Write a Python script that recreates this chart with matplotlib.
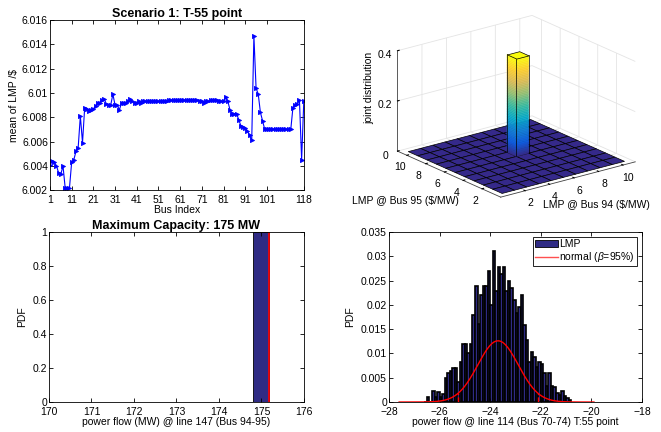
import numpy as np
import matplotlib
matplotlib.use("Agg")
import matplotlib.pyplot as plt
from matplotlib.colors import LinearSegmentedColormap
from matplotlib.patches import Patch
from matplotlib.lines import Line2D
from mpl_toolkits.mplot3d.art3d import Poly3DCollection

plt.rcParams["font.family"] = ["Liberation Sans", "DejaVu Sans"]
plt.rcParams["font.size"] = 7.5
plt.rcParams["mathtext.fontset"] = "custom"
plt.rcParams["mathtext.it"] = "Liberation Sans:italic"
plt.rcParams["axes.linewidth"] = 0.6

# === DATA
# Scenario 1: mean LMP per bus
bus_lmp = [
    6.0041, 6.0044, 6.0043, 6.0040, 6.0034, 6.0033, 6.0040, 6.0022, 6.0022, 6.0022,
    6.0043, 6.0045, 6.0052, 6.0055, 6.0081, 6.0059, 6.0088, 6.0087, 6.0085, 6.0086,
    6.0087, 6.0089, 6.0092, 6.0092, 6.0094, 6.0095, 6.0091, 6.0090, 6.0090, 6.0099,
    6.0090, 6.0090, 6.0086, 6.0092, 6.0092, 6.0092, 6.0093, 6.0095, 6.0093, 6.0092,
    6.0092, 6.0093, 6.0092, 6.0093, 6.0093, 6.0093, 6.0093, 6.0093, 6.0093, 6.0093,
    6.0093, 6.0093, 6.0093, 6.0093, 6.0093, 6.0094, 6.0094, 6.0094, 6.0094, 6.0094,
    6.0094, 6.0094, 6.0094, 6.0094, 6.0094, 6.0094, 6.0094, 6.0094, 6.0094, 6.0093,
    6.0093, 6.0092, 6.0093, 6.0093, 6.0094, 6.0094, 6.0094, 6.0094, 6.0093, 6.0093,
    6.0093, 6.0097, 6.0093, 6.0086, 6.0083, 6.0083, 6.0083, 6.0078, 6.0073, 6.0072,
    6.0071, 6.0069, 6.0065, 6.0061, 6.0147, 6.0104, 6.0099, 6.0084, 6.0077, 6.0070,
    6.0070, 6.0070, 6.0070, 6.0070, 6.0070, 6.0070, 6.0070, 6.0070, 6.0070, 6.0070,
    6.0070, 6.0070, 6.0088, 6.0090, 6.0091, 6.0094, 6.0045, 6.0093,
]
bus_index = np.arange(1, len(bus_lmp) + 1)
bus_ticks = [1, 11, 21, 31, 41, 51, 61, 71, 81, 91, 101, 118]

# joint distribution of LMP at bus 94 / bus 95 (10 x 10 bins, one non-zero)
n_bins = 10
peak_bus94 = 6
peak_bus95 = 6
peak_height = 0.39

# line 147 power flow histogram
flow147_left = 174.79
flow147_right = 175.17
flow147_pdf = 1.0
capacity_line = 175.18

# line 114 power flow histogram
flow114_centers = [
    -26.55, -26.45, -26.35, -26.25, -26.15, -26.05, -25.95, -25.85, -25.75, -25.65,
    -25.55, -25.45, -25.35, -25.25, -25.15, -25.05, -24.95, -24.85, -24.75, -24.65,
    -24.55, -24.45, -24.35, -24.25, -24.15, -24.05, -23.95, -23.85, -23.75, -23.65,
    -23.55, -23.45, -23.35, -23.25, -23.15, -23.05, -22.95, -22.85, -22.75, -22.65,
    -22.55, -22.45, -22.35, -22.25, -22.15, -22.05, -21.95, -21.85, -21.75, -21.65,
    -21.55, -21.45, -21.35, -21.25, -21.15, -21.05, -20.95, -20.85,
]
flow114_pdf = [
    0.0, 0.0010, 0.0, 0.0022, 0.0010, 0.0021, 0.0010, 0.0017, 0.0049, 0.0060,
    0.0063, 0.0070, 0.0071, 0.0042, 0.0083, 0.0119, 0.0120, 0.0101, 0.0120, 0.0180,
    0.0238, 0.0160, 0.0220, 0.0238, 0.0238, 0.0269, 0.0200, 0.0310, 0.0228, 0.0278,
    0.0264, 0.0278, 0.0228, 0.0250, 0.0234, 0.0211, 0.0184, 0.0195, 0.0220, 0.0159,
    0.0128, 0.0083, 0.0104, 0.0093, 0.0073, 0.0083, 0.0078, 0.0060, 0.0032, 0.0060,
    0.0032, 0.0030, 0.0019, 0.0015, 0.0022, 0.0012, 0.0009, 0.0004,
]
bin_width = 0.1
# fitted normal (beta = 95%)
norm_mu = -23.69
norm_sigma = 0.80
norm_peak = 0.0126
norm_range = (-27.6, -19.9)
z_beta = 1.96

# parula-like colormap
parula = LinearSegmentedColormap.from_list(
    "parula",
    ["#352a87", "#0f5cdd", "#1481d6", "#06a7c6", "#38b99e",
     "#92bf73", "#d9ba56", "#fcce2e", "#f9fb0e"],
)
hist_blue = "#2f2b84"

fig = plt.figure(figsize=(6.61, 4.32), dpi=100)


def box_ticks(ax):
    ax.tick_params(direction="in", top=True, right=True, length=3, width=0.6, pad=1.5)
    ax.tick_params(axis="x", pad=3.5)


# === Top right: joint distribution (3D bars), added first so 2D axes sit above
ax2 = fig.add_axes([0.512, 0.451, 0.528, 0.59], projection="3d")
ax2.patch.set_alpha(0)
ax2.set_proj_type("ortho")
ax2.computed_zorder = False
ax2.view_init(elev=20, azim=-127.5)
ax2.set_box_aspect((1, 1, 0.63))
ax2.set_xlim(0, 11)
ax2.set_ylim(0, 11)
ax2.set_zlim(0, 0.4)
for axis in (ax2.xaxis, ax2.yaxis, ax2.zaxis):
    axis.set_pane_color((1, 1, 1, 0))
    axis.pane.set_edgecolor("#d8d8d8")
    axis._axinfo["grid"]["color"] = "#e4e4e4"
    axis._axinfo["grid"]["linewidth"] = 0.6
    axis.line.set_color("#404040")
    axis.line.set_linewidth(0.6)
    axis._axinfo["tick"]["inward_factor"] = 0.0
    axis._axinfo["tick"]["outward_factor"] = 0.15

tiles = []
for i in range(1, n_bins + 1):
    for j in range(1, n_bins + 1):
        x0, y0 = i - 0.5, j - 0.5
        tiles.append([(x0, y0, 0), (x0 + 1, y0, 0), (x0 + 1, y0 + 1, 0), (x0, y0 + 1, 0)])
ax2.add_collection3d(Poly3DCollection(tiles, facecolors="#35298a", edgecolors="k", linewidths=0.5))

x0, x1 = peak_bus94 - 0.5, peak_bus94 + 0.5
y0, y1 = peak_bus95 - 0.5, peak_bus95 + 0.5
n_strips = 60
zs = np.linspace(0, peak_height, n_strips + 1)
strips, cols = [], []
for k in range(n_strips):
    za, zb = zs[k], zs[k + 1]
    c = parula((za + zb) / 2 / peak_height)
    strips.append([(x0, y0, za), (x0, y1, za), (x0, y1, zb), (x0, y0, zb)])
    strips.append([(x0, y0, za), (x1, y0, za), (x1, y0, zb), (x0, y0, zb)])
    cols += [c, c]
ax2.add_collection3d(Poly3DCollection(strips, facecolors=cols, edgecolors=cols, linewidths=0.3))
top = [[(x0, y0, peak_height), (x1, y0, peak_height), (x1, y1, peak_height), (x0, y1, peak_height)]]
ax2.add_collection3d(Poly3DCollection(top, facecolors=parula(1.0), edgecolors="k", linewidths=0.5))
for (xa, ya) in [(x0, y0), (x1, y0), (x0, y1)]:
    ax2.plot([xa, xa], [ya, ya], [0, peak_height], color="k", lw=0.5)

ax2.set_xticks([2, 4, 6, 8, 10])
ax2.set_yticks([2, 4, 6, 8, 10])
ax2.set_zticks([0, 0.2, 0.4])
ax2.set_zticklabels(["0", "0.2", "0.4"])
ax2.tick_params(axis="x", pad=-3)
ax2.tick_params(axis="y", pad=-3)
ax2.tick_params(axis="z", pad=-3)
fig.text(405 / 661, 1 - 201 / 432, "LMP @ Bus 95 ($/MW)", ha="center", va="center")
fig.text(543 / 661, 1 - 205 / 432, "LMP @ Bus 94 ($/MW)", ha="left", va="center")
fig.text(369 / 661, 1 - 88 / 432, "joint distribution", ha="center", va="center", rotation=90)

# === Top left: mean LMP per bus
ax1 = fig.add_axes([0.0756, 0.560, 0.384, 0.3935])
ax1.plot(bus_index, bus_lmp, color="b", lw=0.8, marker=">", ms=3, mew=0.6)
ax1.set_xlim(1, 118)
ax1.set_ylim(6.002, 6.016)
ax1.set_xticks(bus_ticks)
yt = [6.002, 6.004, 6.006, 6.008, 6.01, 6.012, 6.014, 6.016]
ax1.set_yticks(yt)
ax1.set_yticklabels(["6.002", "6.004", "6.006", "6.008", "6.01", "6.012", "6.014", "6.016"])
box_ticks(ax1)
ax1.set_title("Scenario 1: T-55 point", fontweight="bold", pad=2)
ax1.set_xlabel("Bus Index", labelpad=0)
ax1.set_ylabel("mean of LMP /\\$", labelpad=2)

# === Bottom left: line 147 power flow
ax3 = fig.add_axes([0.0741, 0.0694, 0.3858, 0.3935])
ax3.bar(flow147_left, flow147_pdf, width=flow147_right - flow147_left, align="edge",
        color=hist_blue, edgecolor="k", linewidth=0.6)
ax3.plot([capacity_line, capacity_line], [0, flow147_pdf], color="r", lw=1.2)
ax3.set_xlim(170, 176)
ax3.set_ylim(0, 1)
ax3.set_yticks([0, 0.2, 0.4, 0.6, 0.8, 1])
ax3.set_yticklabels(["0", "0.2", "0.4", "0.6", "0.8", "1"])
box_ticks(ax3)
ax3.set_title("Maximum Capacity: 175 MW", fontweight="bold", pad=2)
ax3.set_xlabel("power flow (MW) @ line 147 (Bus 94-95)", labelpad=0)
ax3.set_ylabel("PDF", labelpad=4)

# === Bottom right: line 114 power flow
ax4 = fig.add_axes([0.5885, 0.0694, 0.3828, 0.3935])
ax4.bar(flow114_centers, flow114_pdf, width=bin_width, color=hist_blue,
        edgecolor="k", linewidth=1.2)
xc = np.linspace(norm_range[0], norm_range[1], 300)
yc = norm_peak * np.exp(-0.5 * ((xc - norm_mu) / norm_sigma) ** 2)
ax4.plot(xc, yc, color="r", lw=1.0)
for xb in (norm_mu - z_beta * norm_sigma, norm_mu + z_beta * norm_sigma):
    yb = norm_peak * np.exp(-0.5 * ((xb - norm_mu) / norm_sigma) ** 2)
    ax4.plot([xb, xb], [0, yb], color="r", lw=1.0, ls="--")
ax4.set_xlim(-28, -18)
ax4.set_ylim(0, 0.035)
ax4.set_xticks(range(-28, -17, 2))
ax4.set_yticks([0, 0.005, 0.01, 0.015, 0.02, 0.025, 0.03, 0.035])
ax4.set_yticklabels(["0", "0.005", "0.01", "0.015", "0.02", "0.025", "0.03", "0.035"])
box_ticks(ax4)
ax4.set_xlabel("power flow @ line 114 (Bus 70-74) T:55 point", labelpad=0)
ax4.set_ylabel("PDF", labelpad=4)
handles = [Patch(facecolor=hist_blue, edgecolor="k", linewidth=0.6),
           Line2D([0], [0], color="#ff5050", lw=1.0)]
ax4.legend(handles, ["LMP", r"normal ($\beta$=95%)"], loc="upper right",
           fancybox=False, edgecolor="k", framealpha=1, borderpad=0.2,
           labelspacing=0.1, handlelength=2.2, handletextpad=0.1,
           borderaxespad=0.5).get_frame().set_linewidth(0.6)

fig.savefig("out.png", dpi=100)
